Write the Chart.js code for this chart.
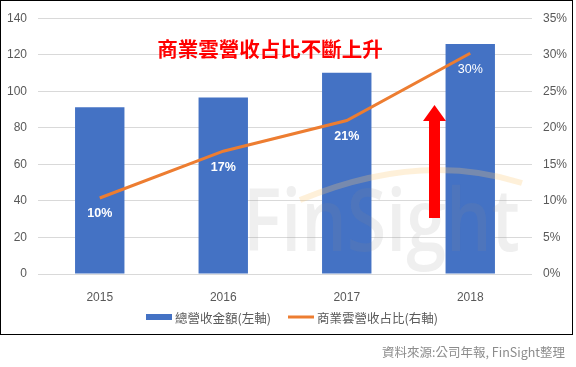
<!DOCTYPE html>
<html><head><meta charset="utf-8">
<script src="https://cdn.jsdelivr.net/npm/chart.js@4/dist/chart.umd.min.js"></script>
<style>
body{margin:0;background:#fff;width:576px;height:367px;overflow:hidden;position:relative;font-family:"Noto Sans CJK TC","Noto Sans",sans-serif}
#c{position:absolute;left:0;top:0}
#frame{position:absolute;left:0;top:0;width:571px;height:333px;border:1.5px solid #000;pointer-events:none}
#src{position:absolute;right:11px;top:342px;font-size:12.5px;color:#8c8c8c;white-space:nowrap}
</style></head>
<body>
<canvas id="c" width="576" height="367"></canvas>
<div id="frame"></div>
<div id="src">資料來源:公司年報, FinSight整理</div>
<script>
const categories = ['2015','2016','2017','2018'];
const revenue = [91.2, 96.6, 110.1, 125.9];
const cloudShare = [10.4, 16.8, 21.0, 30.2];
const shareLabels = ['10%','17%','21%','30%'];
const seriesNames = ['總營收金額(左軸)','商業雲營收占比(右軸)'];
const titleText = '商業雲營收占比不斷上升';
const watermarkText = 'FinSight';

const BLUE = '#4472C4', ORANGE = '#ED7D31', TICK = '#595959';

const deco = {
  id: 'deco',
  afterDatasetsDraw(chart) {
    const ctx = chart.ctx;
    // watermark
    ctx.save();
    ctx.font = '600 87px "Open Sans", "DejaVu Sans", sans-serif';
    ctx.textBaseline = 'alphabetic';
    ctx.textAlign = 'left';
    const w = ctx.measureText(watermarkText).width;
    ctx.translate(243, 251);
    ctx.scale(277 / w, 1);
    ctx.fillStyle = 'rgba(140,140,140,0.14)';
    ctx.fillText(watermarkText, 0, 0);
    ctx.restore();
    ctx.save();
    ctx.strokeStyle = 'rgba(250,200,120,0.28)';
    ctx.lineWidth = 6;
    ctx.beginPath();
    ctx.moveTo(300, 200);
    ctx.quadraticCurveTo(420, 150, 522, 183);
    ctx.stroke();
    ctx.restore();
    // red arrow
    ctx.save();
    ctx.fillStyle = '#FF0000';
    ctx.beginPath();
    ctx.moveTo(434.5, 105);
    ctx.lineTo(446, 121);
    ctx.lineTo(440, 121);
    ctx.lineTo(440, 218);
    ctx.lineTo(429, 218);
    ctx.lineTo(429, 121);
    ctx.lineTo(423, 121);
    ctx.closePath();
    ctx.fill();
    ctx.restore();
  },
  afterDraw(chart) {
    const ctx = chart.ctx;
    const meta = chart.getDatasetMeta(1);
    ctx.save();
    ctx.fillStyle = '#fff';
    ctx.textAlign = 'center';
    ctx.textBaseline = 'middle';
    meta.data.forEach((pt, i) => {
      ctx.font = (i === 3 ? '' : 'bold ') + '12.5px "Liberation Sans", Arial, sans-serif';
      ctx.fillText(shareLabels[i], pt.x, pt.y + 16);
    });
    // title
    ctx.fillStyle = '#FF0000';
    ctx.font = 'bold 20.5px "Noto Sans CJK TC", sans-serif';
    ctx.fillText(titleText, 270, 49);
    // legend
    ctx.font = '12.5px "Noto Sans CJK TC", sans-serif';
    ctx.textAlign = 'left';
    ctx.fillStyle = BLUE;
    ctx.fillRect(146, 314, 26, 6);
    ctx.fillStyle = TICK;
    ctx.fillText(seriesNames[0], 175, 318);
    ctx.strokeStyle = ORANGE;
    ctx.lineWidth = 3;
    ctx.beginPath(); ctx.moveTo(288, 317); ctx.lineTo(314, 317); ctx.stroke();
    ctx.fillText(seriesNames[1], 317, 318);
    ctx.restore();
  }
};

new Chart(document.getElementById('c'), {
  data: {
    labels: categories,
    datasets: [
      { type: 'bar', label: seriesNames[0], data: revenue, backgroundColor: BLUE, yAxisID: 'y',
        barPercentage: 0.4, categoryPercentage: 1.0, order: 2 },
      { type: 'line', label: seriesNames[1], data: cloudShare, borderColor: ORANGE, borderWidth: 3,
        pointRadius: 0, tension: 0, yAxisID: 'y1', order: 1 }
    ]
  },
  options: {
    responsive: false, animation: false,
    layout: { padding: { left: 0, right: 0, top: 16, bottom: 63 } },
    plugins: { legend: { display: false }, tooltip: { enabled: false } },
    scales: {
      x: {
        grid: { display: false }, border: { display: false },
        ticks: { color: TICK, font: { size: 12, family: '"Liberation Sans", Arial, sans-serif' }, padding: 8 },
        afterFit(s) { s.height = 30; }
      },
      y: {
        position: 'left', min: 0, max: 140,
        ticks: { stepSize: 20, color: TICK, font: { size: 12, family: '"Liberation Sans", Arial, sans-serif' }, padding: 11 },
        grid: { color: '#D9D9D9', lineWidth: 1, drawTicks: false },
        border: { display: false },
        afterFit(s) { s.width = 38; }
      },
      y1: {
        position: 'right', min: 0, max: 35,
        ticks: { stepSize: 5, color: TICK, font: { size: 12, family: '"Liberation Sans", Arial, sans-serif' }, padding: 11,
          callback: v => v + '%' },
        grid: { display: false, drawTicks: false },
        border: { display: false },
        afterFit(s) { s.width = 44; }
      }
    }
  },
  plugins: [deco]
});
</script>
</body></html>
